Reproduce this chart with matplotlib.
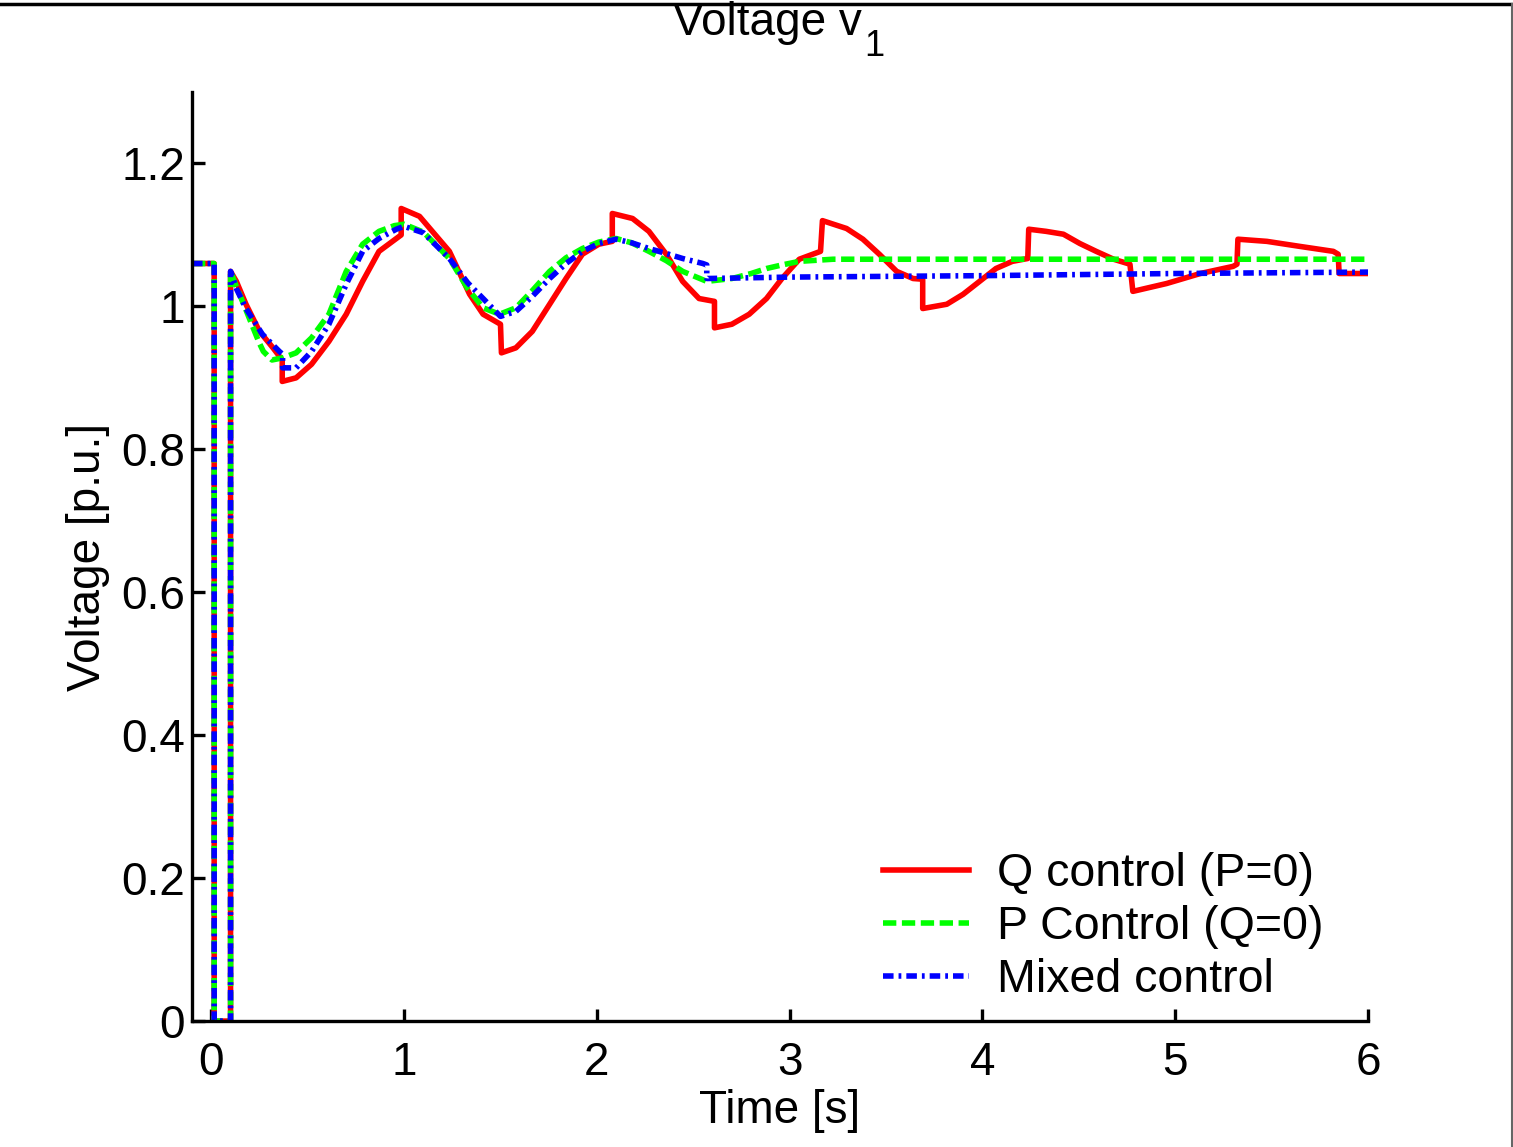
import matplotlib.pyplot as plt
from matplotlib.lines import Line2D

plt.rcParams['font.family'] = ['Liberation Sans', 'DejaVu Sans']

# time / voltage pairs (repeated t = step change)
t_q = [-0.1, 0.015, 0.015, 0.10, 0.10, 0.13, 0.18, 0.25, 0.32, 0.368, 0.368, 0.44, 0.52,
       0.61, 0.70, 0.785, 0.87, 0.96, 0.985, 0.985, 1.08, 1.235, 1.34, 1.41, 1.50, 1.505,
       1.58, 1.665, 1.755, 1.84, 1.925, 2.01, 2.08, 2.08, 2.185, 2.27, 2.36, 2.445, 2.53,
       2.61, 2.61, 2.70, 2.79, 2.88, 2.96, 3.05, 3.16, 3.17, 3.295, 3.38, 3.465, 3.555,
       3.64, 3.69, 3.69, 3.815, 3.90, 3.985, 4.07, 4.155, 4.235, 4.24, 4.33, 4.42, 4.505,
       4.59, 4.68, 4.765, 4.78, 4.955, 5.13, 5.30, 5.32, 5.325, 5.475, 5.645, 5.82, 5.845,
       5.85, 6.0]
v_q = [1.060, 1.060, 0.0, 0.0, 1.049, 1.035, 1.003, 0.965, 0.942, 0.925, 0.895, 0.900, 0.919,
       0.951, 0.989, 1.035, 1.077, 1.095, 1.100, 1.137, 1.126, 1.077, 1.017, 0.989, 0.975, 0.935,
       0.942, 0.965, 1.003, 1.039, 1.073, 1.087, 1.091, 1.130, 1.123, 1.105, 1.073, 1.035, 1.011,
       1.007, 0.970, 0.975, 0.989, 1.011, 1.039, 1.066, 1.077, 1.120, 1.109, 1.094, 1.073, 1.049,
       1.039, 1.038, 0.997, 1.003, 1.017, 1.035, 1.053, 1.063, 1.067, 1.108, 1.105, 1.101, 1.088,
       1.077, 1.066, 1.059, 1.021, 1.032, 1.046, 1.056, 1.059, 1.094, 1.091, 1.084, 1.077, 1.073,
       1.046, 1.046]

t_p = [-0.1, 0.015, 0.015, 0.10, 0.10, 0.13, 0.18, 0.247, 0.27, 0.315, 0.37, 0.44, 0.52,
       0.61, 0.70, 0.785, 0.87, 0.95, 1.0, 1.1, 1.235, 1.33, 1.41, 1.495, 1.58, 1.665, 1.755,
       1.84, 1.925, 2.01, 2.10, 2.18, 2.27, 2.36, 2.445, 2.57, 2.70, 2.80, 2.88, 2.96, 3.05,
       3.225, 4.0, 5.0, 6.0]
v_p = [1.060, 1.060, 0.0, 0.0, 1.049, 1.028, 0.995, 0.950, 0.937, 0.925, 0.928, 0.935, 0.956,
       0.989, 1.049, 1.087, 1.105, 1.113, 1.115, 1.104, 1.067, 1.025, 0.998, 0.989, 0.998, 1.022,
       1.049, 1.068, 1.081, 1.090, 1.095, 1.089, 1.077, 1.064, 1.049, 1.035, 1.039, 1.046, 1.053,
       1.058, 1.063, 1.066, 1.066, 1.066, 1.066]

t_m = [-0.1, 0.015, 0.015, 0.10, 0.10, 0.13, 0.18, 0.265, 0.353, 0.37, 0.37, 0.44, 0.52,
       0.61, 0.70, 0.785, 0.87, 0.96, 1.0, 1.1, 1.235, 1.33, 1.41, 1.50, 1.58, 1.665, 1.755,
       1.84, 1.925, 2.01, 2.10, 2.18, 2.27, 2.36, 2.445, 2.55, 2.57, 2.57, 3.0, 4.0, 5.0, 6.0]
v_m = [1.060, 1.060, 0.0, 0.0, 1.049, 1.025, 0.997, 0.961, 0.937, 0.933, 0.914, 0.914, 0.937,
       0.975, 1.031, 1.077, 1.095, 1.108, 1.112, 1.103, 1.067, 1.033, 1.011, 0.986, 0.993, 1.014,
       1.039, 1.060, 1.077, 1.088, 1.094, 1.089, 1.081, 1.074, 1.067, 1.060, 1.058, 1.039, 1.041,
       1.043, 1.046, 1.048]

labels = ['Q control (P=0)', 'P Control (Q=0)', 'Mixed control']
x_ticks = [0, 1, 2, 3, 4, 5, 6]
y_ticks = [0, 0.2, 0.4, 0.6, 0.8, 1.0, 1.2]
y_tick_labels = ['0', '0.2', '0.4', '0.6', '0.8', '1', '1.2']


def main():
    fig = plt.figure(figsize=(15.13, 11.47), dpi=100)
    ax = fig.add_axes([0.1269, 0.1098, 0.9042 - 0.1269, 0.9198 - 0.1098])

    lw = 4.0
    ax.plot(t_q, v_q, color='#ff0000', lw=lw, ls='-', label=labels[0])
    ax.plot(t_p, v_p, color='#00ff00', lw=lw, ls=(0, (2.4, 1.0)), label=labels[1])
    ax.plot(t_m, v_m, color='#0000ff', lw=lw, ls=(0, (1.9, 0.9, 0.5, 0.9)), label=labels[2])

    ax.set_xlim(-0.1, 6)
    ax.set_ylim(0, 1.3)
    ax.set_xticks(x_ticks)
    ax.set_yticks(y_ticks)
    ax.set_yticklabels(y_tick_labels)
    ax.spines['top'].set_visible(False)
    ax.spines['right'].set_visible(False)
    for s in ('left', 'bottom'):
        ax.spines[s].set_linewidth(2.4)
    ax.tick_params(direction='in', length=9, width=2.4, labelsize=33)
    ax.tick_params(axis='x', pad=14)
    ax.tick_params(axis='y', pad=5)

    ax.set_xlabel('Time [s]', fontsize=33, labelpad=3)
    ax.set_ylabel('Voltage [p.u.]', fontsize=33, labelpad=8)

    # MATLAB-style title with a lowered subscript
    fig.text(862 / 1513, 1 - 35 / 1147, 'Voltage v', fontsize=33, ha='right', va='baseline')
    fig.text(864 / 1513, 1 - 56 / 1147, '1', fontsize=26, ha='left', va='baseline')

    ax.legend(loc='lower right', frameon=False, fontsize=33.5, handlelength=1.85,
              handletextpad=0.6, labelspacing=0.2, borderaxespad=0.0,
              bbox_to_anchor=(0.978, 0.0))

    # frame lines at the top and right edge of the exported image
    fig.add_artist(Line2D([0, 1], [0.9965, 0.9965], color='black', lw=2.5,
                          transform=fig.transFigure))
    fig.add_artist(Line2D([0.9993, 0.9993], [0, 0.9965], color='#666666', lw=1.5,
                          transform=fig.transFigure))

    fig.savefig('out.png', dpi=100)
    plt.close(fig)


if __name__ == '__main__':
    main()
